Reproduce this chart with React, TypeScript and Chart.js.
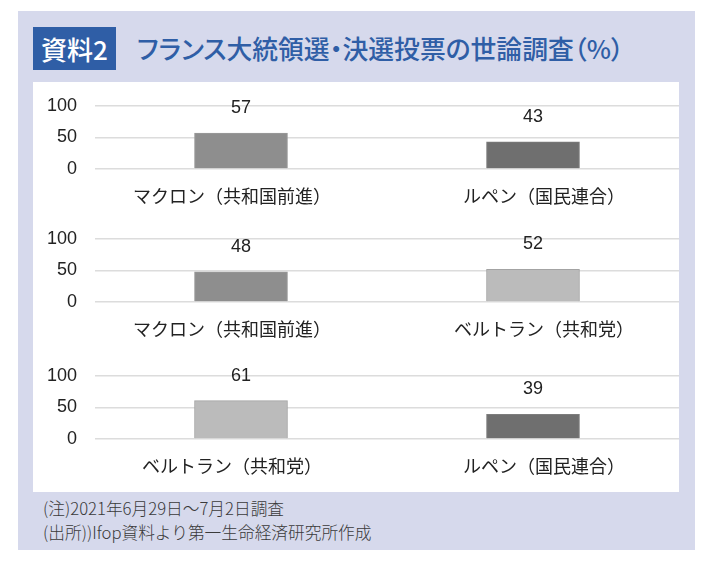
import React, { useEffect, useRef } from "react";
import { Chart, registerables } from "chart.js";

Chart.register(...registerables);

// ---- data ----
const yTickValues = [0, 50, 100];
const panel1Categories = ["マクロン（共和国前進）", "ルペン（国民連合）"];
const panel1Values = [57, 43];
const panel2Categories = ["マクロン（共和国前進）", "ベルトラン（共和党）"];
const panel2Values = [48, 52];
const panel3Categories = ["ベルトラン（共和党）", "ルペン（国民連合）"];
const panel3Values = [61, 39];

const titleBadge = "資料2";
const titleText = "フランス大統領選・決選投票の世論調査（%）";
const noteLines = ["(注)2021年6月29日〜7月2日調査", "(出所))Ifop資料より第一生命経済研究所作成"];

// ---- styles ----
const candidateFill: Record<string, string> = {
  マクロン: "#8e8e8e",
  ルペン: "#6f6f6f",
  ベルトラン: "#bbbbbb",
};
const candidateBorder: Record<string, string> = {
  マクロン: "#9a9a9a",
  ルペン: "#7d7d7d",
  ベルトラン: "#a3a3a3",
};
const JP_FONT = "'Noto Sans CJK JP', 'Noto Sans', sans-serif";
const NUM_FONT = "'Liberation Sans', Arial, sans-serif";
// visual nudge of the category labels (left label sits a bit left, right one a bit right)
const LEFT_LABEL_PAD = "\u3000\u2002";
const RIGHT_LABEL_PAD = "\u3000 ";

const colorFor = (label: string, map: Record<string, string>) => {
  const key = Object.keys(map).find((k) => label.startsWith(k));
  return key ? map[key] : "#888888";
};

const valueLabelPlugin = {
  id: "valueLabels",
  afterDatasetsDraw(chart: any) {
    const { ctx } = chart;
    const meta = chart.getDatasetMeta(0);
    const data = chart.data.datasets[0].data as number[];
    ctx.save();
    ctx.font = `18px ${NUM_FONT}`;
    ctx.fillStyle = "#222222";
    ctx.textAlign = "center";
    ctx.textBaseline = "middle";
    meta.data.forEach((el: any, i: number) => {
      ctx.fillText(String(data[i]), el.x, el.y - 25);
    });
    ctx.restore();
  },
};

const CANVAS_W = 646;
const CANVAS_H = 135;

function PanelChart({ categories, values, top }: { categories: string[]; values: number[]; top: number }) {
  const ref = useRef<HTMLCanvasElement | null>(null);
  useEffect(() => {
    if (!ref.current) return;
    const chart = new Chart(ref.current, {
      type: "bar",
      data: {
        labels: categories,
        datasets: [
          {
            data: values,
            backgroundColor: categories.map((c) => colorFor(c, candidateFill)),
            borderColor: categories.map((c) => colorFor(c, candidateBorder)),
            borderWidth: 1,
            barThickness: 93,
          },
        ],
      },
      options: {
        responsive: false,
        animation: false,
        events: [],
        layout: { padding: { top: 22, bottom: 12.5, left: 0, right: 0 } },
        plugins: { legend: { display: false }, tooltip: { enabled: false } },
        scales: {
          x: {
            afterFit: (scale: any) => {
              scale.height = 37.5;
            },
            grid: { display: false, drawTicks: false },
            border: { display: false },
            ticks: {
              padding: 16.5,
              color: "#222222",
              font: { family: JP_FONT, size: 18 },
              maxRotation: 0,
              autoSkip: false,
              callback: (_v: any, i: number) =>
                i === 0 ? categories[i] + LEFT_LABEL_PAD : RIGHT_LABEL_PAD + categories[i],
            },
          },
          y: {
            min: 0,
            max: 100,
            afterBuildTicks: (scale: any) => {
              scale.ticks = yTickValues.map((v) => ({ value: v }));
            },
            afterFit: (scale: any) => {
              scale.width = 62;
              scale.paddingTop = 0;
              scale.paddingBottom = 0;
            },
            grid: { color: "#dcdcdc", lineWidth: 1.5, drawTicks: false },
            border: { display: false },
            ticks: {
              padding: 18,
              autoSkip: false,
              color: "#222222",
              font: { family: NUM_FONT, size: 18 },
            },
          },
        },
      },
      plugins: [valueLabelPlugin],
    });
    return () => chart.destroy();
  }, [categories, values]);
  return (
    <canvas
      ref={ref}
      width={CANVAS_W}
      height={CANVAS_H}
      style={{ position: "absolute", left: 0, top, width: CANVAS_W, height: CANVAS_H }}
    />
  );
}

export default function App() {
  return (
    <div style={{ position: "absolute", left: 0, top: 0, width: 706, height: 564, background: "#ffffff", overflow: "hidden" }}>
      <div
        style={{
          position: "absolute",
          left: 18,
          top: 11,
          width: 677,
          height: 539,
          background: "#d6d9ec",
        }}
      />
      <div
        style={{
          position: "absolute",
          left: 33,
          top: 27,
          width: 83,
          height: 43,
          background: "#2f5ea6",
          color: "#ffffff",
          fontFamily: JP_FONT,
          fontSize: 26,
          fontWeight: 500,
          lineHeight: "43px",
          textAlign: "center",
          fontFeatureSettings: '"palt"',
        }}
      >
        {titleBadge}
      </div>
      <div
        style={{
          position: "absolute",
          left: 137,
          top: 31,
          height: 34,
          color: "#2f5ea6",
          fontFamily: JP_FONT,
          fontSize: 25.8,
          fontWeight: 500,
          lineHeight: "34px",
          whiteSpace: "nowrap",
          fontFeatureSettings: '"palt"',
        }}
      >
        {titleText}
      </div>
      <div
        style={{
          position: "absolute",
          left: 33,
          top: 82,
          width: 646,
          height: 410,
          background: "#ffffff",
        }}
      >
        <PanelChart categories={panel1Categories} values={panel1Values} top={2} />
        <PanelChart categories={panel2Categories} values={panel2Values} top={135} />
        <PanelChart categories={panel3Categories} values={panel3Values} top={272} />
      </div>
      <div
        style={{
          position: "absolute",
          left: 43,
          top: 496,
          color: "#3a3a3a",
          fontFamily: JP_FONT,
          fontSize: 16.7,
          fontWeight: 300,
          lineHeight: "24px",
          whiteSpace: "nowrap",
        }}
      >
        {noteLines.map((l) => (
          <div key={l}>{l}</div>
        ))}
      </div>
    </div>
  );
}
